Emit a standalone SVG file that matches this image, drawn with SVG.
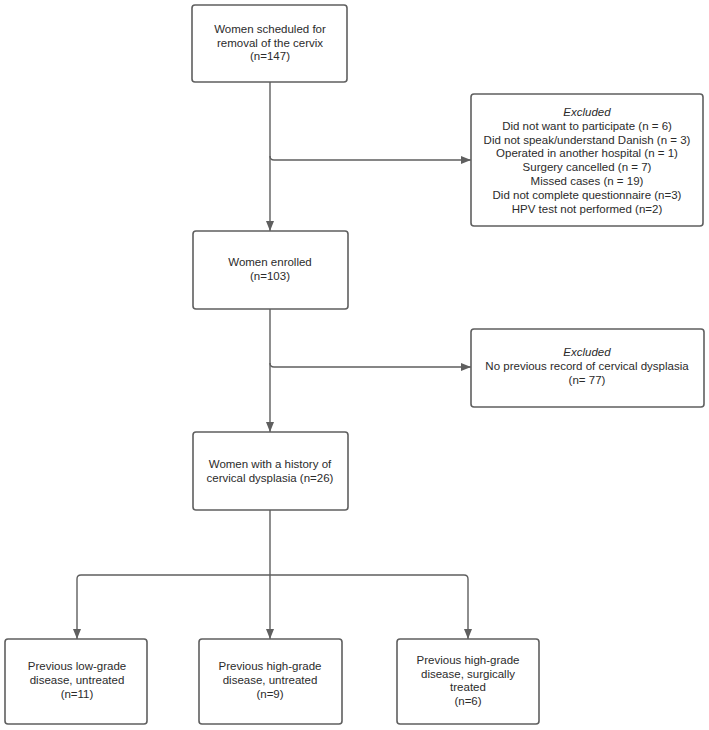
<svg xmlns="http://www.w3.org/2000/svg" width="709" height="730" viewBox="0 0 709 730">
<defs>
<style>
.box{fill:#fff;stroke:#5f5f5f;stroke-width:1.6}
.t{font-family:"Liberation Sans",Arial,sans-serif;font-size:11.5px;fill:#2b2b2b;text-anchor:middle}
.i{font-style:italic}
.c{fill:none;stroke:#5f5f5f;stroke-width:1.4}
</style>
<marker id="ah" markerWidth="10" markerHeight="8" refX="10" refY="4" orient="auto" markerUnits="userSpaceOnUse">
<path d="M0,0 L10,4 L0,8 Z" fill="#5f5f5f"/>
</marker>
</defs>
<rect width="709" height="730" fill="#fff"/>
<g id="connectors">
<path class="c" d="M270,82 V231" marker-end="url(#ah)"/>
<path class="c" d="M270,156 Q270,160 274,160 H471" marker-end="url(#ah)"/>
<path class="c" d="M270,309 V432" marker-end="url(#ah)"/>
<path class="c" d="M270,363 Q270,367 274,367 H471" marker-end="url(#ah)"/>
<path class="c" d="M270,510 V639" marker-end="url(#ah)"/>
<path class="c" d="M270,575 H81 Q77,575 77,579 V639" marker-end="url(#ah)"/>
<path class="c" d="M270,575 H464 Q468,575 468,579 V639" marker-end="url(#ah)"/>
</g>
<g id="n1">
<rect class="box" x="192" y="5" width="155" height="77" rx="3"/>
<text class="t" x="270" y="33">Women scheduled for</text>
<text class="t" x="270" y="46.5">removal of the cervix</text>
<text class="t" x="270" y="60">(n=147)</text>
</g>
<g id="ex1">
<rect class="box" x="471" y="94" width="232" height="132" rx="3"/>
<text class="t i" x="587" y="116">Excluded</text>
<text class="t" x="587" y="129.8">Did not want to participate (n = 6)</text>
<text class="t" x="587" y="143.6">Did not speak/understand Danish (n = 3)</text>
<text class="t" x="587" y="157.4">Operated in another hospital (n = 1)</text>
<text class="t" x="587" y="171.2">Surgery cancelled (n = 7)</text>
<text class="t" x="587" y="185">Missed cases (n = 19)</text>
<text class="t" x="587" y="198.8">Did not complete questionnaire (n=3)</text>
<text class="t" x="587" y="212.6">HPV test not performed (n=2)</text>
</g>
<g id="n2">
<rect class="box" x="193" y="231" width="155" height="78" rx="3"/>
<text class="t" x="270" y="266">Women enrolled</text>
<text class="t" x="270" y="280">(n=103)</text>
</g>
<g id="ex2">
<rect class="box" x="471" y="329" width="233" height="78" rx="3"/>
<text class="t i" x="587" y="356">Excluded</text>
<text class="t" x="587" y="370">No previous record of cervical dysplasia</text>
<text class="t" x="587" y="384">(n= 77)</text>
</g>
<g id="n3">
<rect class="box" x="193" y="432" width="155" height="78" rx="3"/>
<text class="t" x="270" y="468">Women with a history of</text>
<text class="t" x="270" y="481.5">cervical dysplasia (n=26)</text>
</g>
<g id="nA">
<rect class="box" x="5" y="639" width="142" height="85" rx="3"/>
<text class="t" x="77" y="670">Previous low-grade</text>
<text class="t" x="77" y="684">disease, untreated</text>
<text class="t" x="77" y="698">(n=11)</text>
</g>
<g id="nB">
<rect class="box" x="199" y="639" width="143" height="85" rx="3"/>
<text class="t" x="270" y="670">Previous high-grade</text>
<text class="t" x="270" y="684">disease, untreated</text>
<text class="t" x="270" y="698">(n=9)</text>
</g>
<g id="nC">
<rect class="box" x="397" y="639" width="142" height="85" rx="3"/>
<text class="t" x="468" y="664">Previous high-grade</text>
<text class="t" x="468" y="677.5">disease, surgically</text>
<text class="t" x="468" y="691">treated</text>
<text class="t" x="468" y="704.5">(n=6)</text>
</g>
</svg>
